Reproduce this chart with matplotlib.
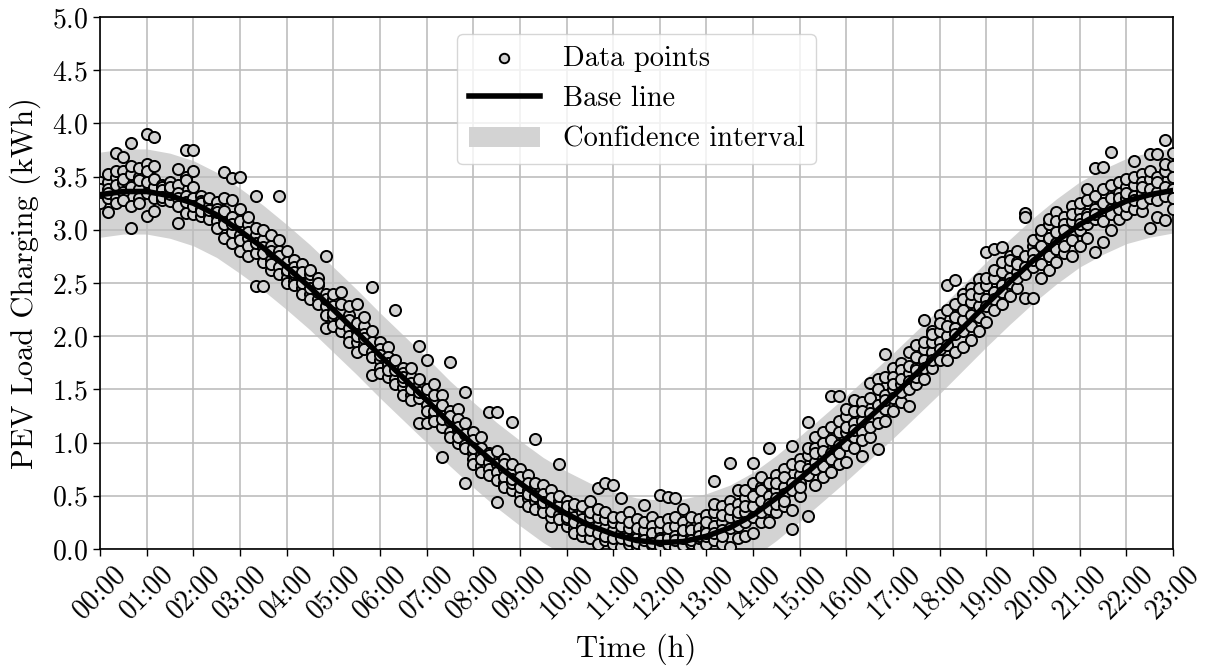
import numpy as np
import matplotlib
matplotlib.use("Agg")
import matplotlib.pyplot as plt

plt.rcParams['font.family'] = 'serif'
plt.rcParams['font.serif'] = ['cmr10']
plt.rcParams['mathtext.fontset'] = 'cm'
plt.rcParams['axes.formatter.use_mathtext'] = True

# tick labels on the time axis
hour_labels = ['00:00', '01:00', '02:00', '03:00', '04:00', '05:00', '06:00', '07:00',
               '08:00', '09:00', '10:00', '11:00', '12:00', '13:00', '14:00', '15:00',
               '16:00', '17:00', '18:00', '19:00', '20:00', '21:00', '22:00', '23:00']

# base line, every half hour from 00:00 to 23:00
base_time = np.arange(0, 23.01, 0.5)
base_load = [3.33, 3.36, 3.36, 3.32, 3.25, 3.14, 2.99, 2.83, 2.65, 2.46, 2.25, 2.04,
             1.82, 1.61, 1.40, 1.18, 0.98, 0.79, 0.62, 0.46, 0.33, 0.22, 0.14, 0.08,
             0.06, 0.07, 0.12, 0.20, 0.32, 0.48, 0.66, 0.85, 1.04, 1.24, 1.44, 1.65,
             1.86, 2.08, 2.30, 2.51, 2.71, 2.89, 3.05, 3.17, 3.27, 3.33, 3.37]
ci_half_width = 0.4

# data points: one list per hour, one row per 10 min slot
h00 = [[3.28, 3.40, 3.45, 3.33, 3.38, 3.25], [3.45, 3.30, 3.17, 3.38, 3.52, 3.35],
       [3.72, 3.50, 3.42, 3.30, 3.55, 3.25], [3.68, 3.44, 3.55, 3.36, 3.28, 3.48],
       [3.82, 3.02, 3.52, 3.40, 3.22, 3.60], [3.50, 3.38, 3.58, 3.30, 3.47, 3.25]]
h01 = [[3.90, 3.13, 3.62, 3.45, 3.55, 3.35], [3.87, 3.18, 3.60, 3.40, 3.48, 3.30],
       [3.42, 3.35, 3.28, 3.40, 3.37, 3.31], [3.30, 3.38, 3.45, 3.27, 3.34, 3.40],
       [3.57, 3.42, 3.35, 3.30, 3.06, 3.22], [3.75, 3.50, 3.47, 3.16, 3.32, 3.26]]
h02 = [[3.75, 3.55, 3.30, 3.15, 3.22, 3.40], [3.32, 3.27, 3.20, 3.13, 3.25, 3.18],
       [3.28, 3.22, 3.15, 3.30, 3.10, 3.19], [3.26, 3.13, 3.08, 3.20, 3.17, 3.02],
       [3.54, 3.30, 3.10, 2.92, 3.18, 3.05], [3.49, 3.28, 2.98, 3.12, 3.05, 2.88]]
h03 = [[3.50, 3.20, 2.80, 2.95, 3.08, 2.90], [3.05, 2.92, 3.12, 2.85, 2.98, 2.75],
       [3.32, 2.47, 2.78, 2.95, 2.88, 3.02], [2.90, 2.47, 2.70, 2.84, 3.00, 2.78],
       [2.85, 2.62, 2.95, 2.72, 2.80, 2.68], [3.32, 2.65, 2.80, 2.58, 2.75, 2.90]]
h04 = [[2.80, 2.60, 2.55, 2.70, 2.62, 2.50], [2.72, 2.52, 2.65, 2.58, 2.48, 2.60],
       [2.55, 2.68, 2.45, 2.60, 2.50, 2.40], [2.52, 2.40, 2.58, 2.45, 2.62, 2.35],
       [2.55, 2.35, 2.48, 2.42, 2.30, 2.50], [2.75, 2.08, 2.40, 2.28, 2.35, 2.20]]
h05 = [[2.35, 2.28, 2.18, 2.10, 2.40, 2.22], [2.42, 2.15, 2.25, 2.05, 2.30, 2.12],
       [2.20, 2.08, 2.00, 2.15, 2.28, 1.95], [2.30, 2.05, 1.95, 2.12, 1.85, 2.00],
       [2.10, 1.92, 2.02, 1.88, 2.18, 1.98], [2.46, 1.64, 1.95, 1.85, 2.05, 1.80]]
h06 = [[1.95, 1.78, 1.70, 1.88, 1.65, 1.82], [1.90, 1.72, 1.80, 1.62, 1.75, 1.68],
       [2.25, 1.60, 1.72, 1.55, 1.68, 1.78], [1.70, 1.52, 1.65, 1.58, 1.45, 1.62],
       [1.62, 1.45, 1.56, 1.70, 1.40, 1.50], [1.91, 1.18, 1.55, 1.42, 1.60, 1.48]]
h07 = [[1.78, 1.18, 1.45, 1.35, 1.50, 1.30], [1.55, 1.25, 1.40, 1.30, 1.20, 1.45],
       [1.45, 0.86, 1.28, 1.15, 1.35, 1.22], [1.76, 1.10, 1.30, 1.20, 1.05, 1.25],
       [1.32, 1.12, 1.22, 1.00, 1.15, 1.05], [1.48, 0.62, 1.08, 0.98, 1.18, 0.95]]
h08 = [[1.10, 0.90, 1.02, 0.85, 0.95, 0.80], [1.05, 0.88, 0.78, 0.95, 0.85, 0.72],
       [1.29, 0.82, 0.90, 0.75, 0.70, 0.88], [1.29, 0.44, 0.80, 0.72, 0.92, 0.65],
       [0.85, 0.62, 0.75, 0.68, 0.80, 0.58], [1.19, 0.55, 0.72, 0.62, 0.80, 0.66]]
h09 = [[0.75, 0.60, 0.52, 0.68, 0.45, 0.58], [0.70, 0.48, 0.55, 0.62, 0.40, 0.52],
       [1.03, 0.45, 0.58, 0.50, 0.38, 0.62], [0.60, 0.40, 0.48, 0.35, 0.52, 0.44],
       [0.55, 0.22, 0.42, 0.30, 0.48, 0.36], [0.80, 0.32, 0.45, 0.28, 0.40, 0.50]]
h10 = [[0.45, 0.22, 0.35, 0.28, 0.40, 0.30], [0.38, 0.20, 0.30, 0.42, 0.25, 0.15],
       [0.35, 0.12, 0.28, 0.22, 0.40, 0.18], [0.45, 0.10, 0.25, 0.30, 0.18, 0.35],
       [0.57, 0.05, 0.22, 0.15, 0.30, 0.38], [0.62, 0.08, 0.20, 0.28, 0.12, 0.35]]
h11 = [[0.60, 0.05, 0.18, 0.25, 0.10, 0.30], [0.48, 0.02, 0.15, 0.22, 0.30, 0.10],
       [0.35, 0.05, 0.12, 0.20, 0.08, 0.25], [0.28, 0.03, 0.15, 0.10, 0.20, 0.06],
       [0.41, 0.02, 0.12, 0.18, 0.08, 0.25], [0.30, 0.04, 0.10, 0.22, 0.15, 0.06]]
h12 = [[0.51, 0.03, 0.18, 0.10, 0.25, 0.08], [0.49, 0.05, 0.15, 0.28, 0.10, 0.20],
       [0.48, 0.02, 0.22, 0.12, 0.30, 0.08], [0.38, 0.04, 0.15, 0.25, 0.10, 0.18],
       [0.22, 0.06, 0.12, 0.30, 0.18, 0.08], [0.28, 0.02, 0.15, 0.10, 0.20, 0.12]]
h13 = [[0.32, 0.05, 0.20, 0.12, 0.25, 0.15], [0.64, 0.08, 0.35, 0.22, 0.15, 0.42],
       [0.40, 0.05, 0.25, 0.32, 0.18, 0.12], [0.81, 0.02, 0.30, 0.45, 0.20, 0.38],
       [0.55, 0.10, 0.30, 0.42, 0.22, 0.35], [0.48, 0.12, 0.35, 0.25, 0.40, 0.55]]
h14 = [[0.81, 0.15, 0.40, 0.30, 0.50, 0.62], [0.58, 0.25, 0.45, 0.35, 0.55, 0.68],
       [0.95, 0.25, 0.50, 0.42, 0.62, 0.38], [0.70, 0.35, 0.55, 0.48, 0.62, 0.42],
       [0.75, 0.40, 0.58, 0.52, 0.68, 0.45], [0.97, 0.19, 0.37, 0.62, 0.80, 0.55]]
h15 = [[0.85, 0.50, 0.70, 0.62, 0.78, 0.58], [1.19, 0.31, 0.75, 0.88, 0.70, 0.95],
       [0.95, 0.60, 0.82, 0.75, 0.90, 1.05], [1.00, 0.68, 0.85, 0.92, 0.78, 1.10],
       [1.44, 0.72, 0.90, 1.02, 0.85, 1.15], [1.44, 0.80, 0.98, 1.10, 0.90, 1.20]]
h16 = [[1.25, 0.82, 1.10, 0.98, 1.15, 1.32], [1.30, 0.95, 1.18, 1.05, 1.40, 1.12],
       [1.38, 0.87, 1.20, 1.10, 1.30, 1.02], [1.56, 1.05, 1.28, 1.20, 1.42, 1.15],
       [1.60, 0.94, 1.35, 1.25, 1.50, 1.18], [1.83, 1.20, 1.45, 1.32, 1.62, 1.40]]
h17 = [[1.70, 1.30, 1.50, 1.42, 1.62, 1.55], [1.75, 1.38, 1.55, 1.48, 1.68, 1.60],
       [1.85, 1.34, 1.65, 1.58, 1.72, 1.50], [1.92, 1.55, 1.70, 1.62, 1.80, 1.68],
       [2.15, 1.60, 1.78, 1.70, 1.88, 1.95], [2.05, 1.70, 1.85, 1.78, 1.95, 2.02]]
h18 = [[2.20, 1.78, 1.95, 2.05, 1.88, 2.12], [2.48, 1.78, 2.00, 2.10, 2.25, 1.92],
       [2.53, 1.85, 2.08, 2.18, 2.30, 2.02], [2.40, 1.90, 2.15, 2.25, 2.35, 2.05],
       [2.45, 1.96, 2.20, 2.32, 2.40, 2.10], [2.54, 2.05, 2.28, 2.38, 2.45, 2.18]]
h19 = [[2.79, 2.13, 2.35, 2.48, 2.55, 2.28], [2.82, 2.25, 2.42, 2.55, 2.62, 2.35],
       [2.84, 2.30, 2.48, 2.60, 2.70, 2.42], [2.75, 2.38, 2.55, 2.65, 2.50, 2.72],
       [2.80, 2.45, 2.60, 2.70, 2.55, 2.68], [3.16, 2.36, 2.65, 2.75, 2.58, 3.12]]
h20 = [[2.85, 2.36, 2.65, 2.78, 2.90, 2.72], [2.95, 2.55, 2.72, 2.85, 3.00, 2.68],
       [3.05, 2.62, 2.80, 2.92, 2.75, 3.10], [3.17, 2.70, 2.88, 2.98, 2.82, 3.08],
       [3.12, 2.78, 2.92, 3.05, 2.85, 3.00], [3.22, 2.75, 2.95, 3.08, 3.15, 2.90]]
h21 = [[3.18, 2.85, 3.00, 3.10, 3.25, 3.05], [3.38, 2.92, 3.05, 3.15, 3.28, 3.12],
       [3.58, 2.79, 3.10, 3.20, 3.32, 3.15], [3.59, 2.89, 3.15, 3.25, 3.38, 3.08],
       [3.73, 3.00, 3.20, 3.30, 3.42, 3.15], [3.45, 3.10, 3.25, 3.35, 3.20, 3.30]]
h22 = [[3.40, 3.15, 3.30, 3.48, 3.22, 3.35], [3.65, 3.20, 3.32, 3.42, 3.28, 3.50],
       [3.52, 3.18, 3.35, 3.45, 3.25, 3.40], [3.71, 3.02, 3.30, 3.48, 3.38, 3.55],
       [3.71, 3.12, 3.36, 3.50, 3.28, 3.45], [3.84, 3.09, 3.40, 3.55, 3.32, 3.62]]
h23 = [[3.72, 3.20, 3.38, 3.50, 3.30, 3.60]]

hourly = [h00, h01, h02, h03, h04, h05, h06, h07, h08, h09, h10, h11,
          h12, h13, h14, h15, h16, h17, h18, h19, h20, h21, h22, h23]

pt_time = []
pt_load = []
for hr, rows in enumerate(hourly):
    for k, row in enumerate(rows):
        for v in row:
            pt_time.append(hr + k / 6)
            pt_load.append(v)

base_load = np.array(base_load)

fig = plt.figure(figsize=(12.07, 6.70), dpi=100)
ax = fig.add_axes([0.0829, 0.1806, 0.8889, 0.794])

band = ax.fill_between(base_time, base_load - ci_half_width, base_load + ci_half_width,
                       color='#d3d3d3', lw=0, zorder=1, label='Confidence interval')
pts = ax.scatter(pt_time, pt_load, s=64, facecolor='#d3d3d3', edgecolor='black',
                 linewidth=1.4, zorder=3, label='Data points')
line, = ax.plot(base_time, base_load, color='black', lw=4, zorder=4, label='Base line')

ax.set_xlim(0, 23)
ax.set_ylim(0, 5)
ax.set_xticks(range(24))
ax.set_xticklabels(hour_labels, rotation=45)
ax.set_yticks(np.arange(0, 5.01, 0.5))
ax.tick_params(labelsize=20, length=5, width=1, color='black')
ax.grid(True, color='#bdbdbd', lw=1.2)
for sp in ax.spines.values():
    sp.set_linewidth(1.2)
    sp.set_color('black')

ax.set_xlabel('Time (h)', fontsize=22, labelpad=7)
ax.set_ylabel('PEV Load Charging (kWh)', fontsize=22, labelpad=8)

ax.legend(handles=[pts, line, band], loc='upper center', fontsize=20.5,
          handlelength=2.5, borderaxespad=0.6, markerscale=0.85)

fig.savefig('out.png', dpi=100)
